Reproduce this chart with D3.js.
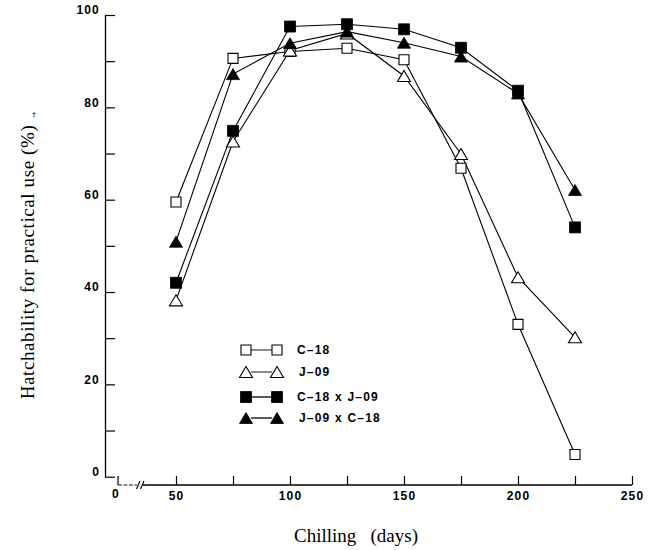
<!DOCTYPE html>
<html>
<head>
<meta charset="utf-8">
<script src="https://cdn.jsdelivr.net/npm/d3@7"></script>
<style>
    body { margin: 0; background: #fff; }
    .tick-label { font-family: "Liberation Sans", Arial, sans-serif; font-weight: bold; font-size: 12px; letter-spacing: 1.2px; }
    .title { font-family: "Liberation Serif", "Times New Roman", serif; font-size: 19px; fill: #000; }
</style>
</head>
<body>
<div id="chart"></div>
<script>
// Chilling period (days)
var DAYS = [50, 75, 100, 125, 150, 175, 200, 225];

// Hatchability for practical use (%) per line
var C18 = [59.5, 90.6, 92.1, 92.8, 90.3, 66.8, 33.0, 4.8];
var J09 = [38.2, 72.6, 92.3, 96.0, 86.8, 69.9, 43.2, 30.2];
var C18_X_J09 = [42.0, 74.9, 97.5, 98.0, 96.9, 92.9, 83.6, 54.0];
var J09_X_C18 = [50.9, 87.2, 93.9, 96.4, 94.0, 91.0, 83.0, 62.1];

var SERIES_NAMES = ['C\u201318', 'J\u201309', 'C\u201318 x J\u201309', 'J\u201309 x C\u201318'];
var SERIES_MARKERS = ['square-open', 'triangle-open', 'square', 'triangle'];

var X_TICKS = [50, 75, 100, 125, 150, 175, 200, 225, 250];
var Y_TICKS = [0, 10, 20, 30, 40, 50, 60, 70, 80, 90, 100];

var WIDTH = 649, HEIGHT = 550;

var series = [C18, J09, C18_X_J09, J09_X_C18].map(function(vals, i) {
    return {
        name: SERIES_NAMES[i],
        marker: SERIES_MARKERS[i],
        points: vals.map(function(v, j) { return {day: DAYS[j], val: v}; })
    };
});

var svg = d3.select('#chart').append('svg')
    .attr('width', WIDTH)
    .attr('height', HEIGHT)
    .style('display', 'block');

svg.append('rect').attr('width', WIDTH).attr('height', HEIGHT).attr('fill', '#fff');

var x = d3.scaleLinear().domain([50, 250]).range([176, 632]);
var y = d3.scaleLinear().domain([0, 100]).range([476.7, 15]);

var axisX = 105, axisY = 485;
// the "0" tick sits left of the axis break
var zeroX = x(50) - 58;

/**
 * Path for a marker centred on 0,0.
 */
var markerPath = function markerPath(kind) {
    if (kind.indexOf('square') === 0) {
        var s = kind === 'square' ? 5.5 : 5;
        return 'M' + (-s) + ',' + (-s) + 'H' + s + 'V' + s + 'H' + (-s) + 'Z';
    }
    var w = 6.5, h = 5.5;
    return 'M0,' + (-h) + 'L' + w + ',' + h + 'L' + (-w) + ',' + h + 'Z';
};

var styleMarker = function styleMarker(sel, kind) {
    var open = kind.indexOf('open') > 0;
    sel.attr('d', markerPath(kind))
        .attr('fill', open ? '#fff' : '#000')
        .attr('stroke', '#000')
        .attr('stroke-width', open ? 1.1 : 0.8);
};

// Y axis, ticks pointing inward
var yAxis = svg.append('g')
    .attr('transform', 'translate(' + axisX + ',0)')
    .call(d3.axisLeft(y)
        .tickValues(Y_TICKS)
        .tickSizeInner(-10)
        .tickSizeOuter(0)
        .tickPadding(5)
        .tickFormat(function(d) { return d % 20 === 0 ? d : ''; }));

yAxis.select('.domain').attr('stroke-width', 1.3);
yAxis.selectAll('.tick line').attr('stroke-width', 1.2);
yAxis.selectAll('.tick text')
    .attr('class', 'tick-label')
    .attr('fill', '#000')
    .attr('dy', '-0.1em');
yAxis.attr('font-size', null).attr('font-family', null);

// X axis, after the break
var xAxis = svg.append('g')
    .attr('transform', 'translate(0,' + axisY + ')')
    .call(d3.axisBottom(x)
        .tickValues(X_TICKS)
        .tickSizeInner(-9)
        .tickSizeOuter(0)
        .tickPadding(6)
        .tickFormat(function(d) { return d % 50 === 0 ? d : ''; }));

xAxis.select('.domain').attr('d', 'M' + (zeroX + 25) + ',0H' + x(250)).attr('stroke-width', 1.3);
xAxis.selectAll('.tick line').attr('stroke-width', 1.2);
xAxis.selectAll('.tick text')
    .attr('class', 'tick-label')
    .attr('fill', '#000');
xAxis.attr('font-size', null).attr('font-family', null);

// zero tick, short stub and the break marks
var brk = svg.append('g').attr('transform', 'translate(0,' + axisY + ')');
brk.append('line').attr('x1', zeroX).attr('x2', zeroX).attr('y1', -9).attr('y2', 0)
    .attr('stroke', '#000').attr('stroke-width', 1.2);
brk.append('line').attr('x1', zeroX).attr('x2', zeroX + 19).attr('y1', 0).attr('y2', 0)
    .attr('stroke', '#000').attr('stroke-width', 0.9).attr('stroke-dasharray', '4,1.5');
[zeroX + 20, zeroX + 24].forEach(function(bx) {
    brk.append('line').attr('x1', bx - 1.5).attr('x2', bx + 2).attr('y1', 4).attr('y2', -4)
        .attr('stroke', '#000').attr('stroke-width', 1.1);
});
brk.append('text').attr('class', 'tick-label')
    .attr('x', zeroX - 2).attr('y', 12.5)
    .attr('text-anchor', 'middle')
    .text('0');

// Series lines
var line = d3.line()
    .x(function(d) { return x(d.day); })
    .y(function(d) { return y(d.val); });

svg.append('g').selectAll('path')
    .data(series)
    .enter().append('path')
    .attr('d', function(d) { return line(d.points); })
    .attr('fill', 'none')
    .attr('stroke', '#000')
    .attr('stroke-width', 1.1);

// Markers on top of the lines
var markerGroups = svg.append('g').selectAll('g')
    .data(series)
    .enter().append('g');

markerGroups.each(function(s) {
    d3.select(this).selectAll('path')
        .data(s.points)
        .enter().append('path')
        .attr('transform', function(d) { return 'translate(' + x(d.day) + ',' + y(d.val) + ')'; })
        .call(styleMarker, s.marker);
});

// Legend
var legendY = [350, 372, 397, 418];
var legend = svg.append('g').selectAll('g')
    .data(series)
    .enter().append('g')
    .attr('transform', function(d, i) { return 'translate(246,' + legendY[i] + ')'; });

legend.append('line')
    .attr('x1', 5).attr('x2', 26)
    .attr('stroke', '#000')
    .attr('stroke-width', function(d) { return d.marker.indexOf('open') > 0 ? 0.9 : 1.3; });
legend.append('path').each(function(d) { d3.select(this).call(styleMarker, d.marker); });
legend.append('path').attr('transform', 'translate(31,0)')
    .each(function(d) { d3.select(this).call(styleMarker, d.marker); });
legend.append('text')
    .attr('class', 'tick-label')
    .attr('x', function(d, i) { return i % 2 === 0 ? 51 : 53; })
    .attr('dy', '0.36em')
    .text(function(d) { return d.name; });

// Axis titles
svg.append('text')
    .attr('class', 'title')
    .attr('transform', 'translate(34,' + 262 + ') rotate(-90)')
    .attr('text-anchor', 'middle')
    .style('letter-spacing', '0.6px')
    .text('Hatchability for practical use (%)');

// small upright dagger beside the y title
svg.append('text')
    .attr('x', 34).attr('y', 117)
    .attr('text-anchor', 'middle')
    .attr('font-family', '"DejaVu Serif", serif')
    .attr('font-size', '8px')
    .attr('fill', '#000')
    .text('\u2020');

svg.append('text')
    .attr('class', 'title')
    .attr('x', 356).attr('y', 542)
    .attr('text-anchor', 'middle')
    .style('white-space', 'pre')
    .text('Chilling   (days)');
</script>
</body>
</html>
